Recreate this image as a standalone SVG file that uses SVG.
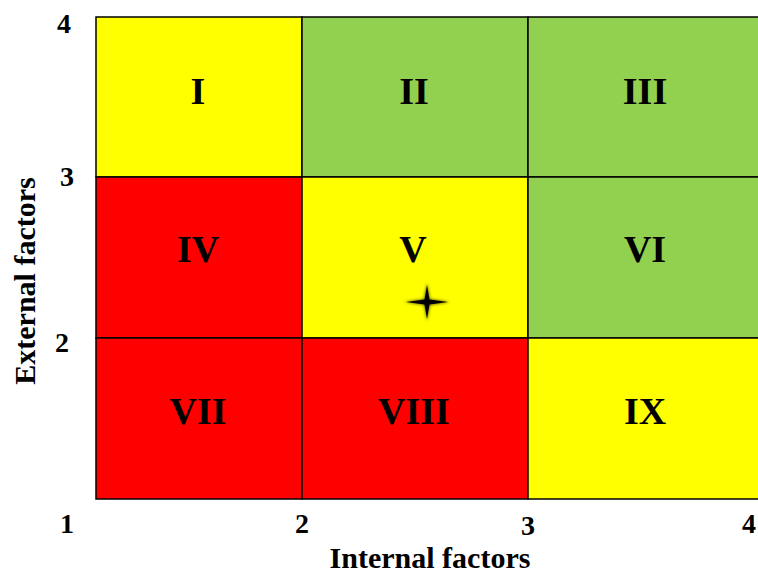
<svg xmlns="http://www.w3.org/2000/svg" width="758" height="575" viewBox="0 0 758 575">
<style>
.cell{stroke:#000;stroke-width:1.5}
.y{fill:#FFFF00}.g{fill:#92D050}.r{fill:#FF0000}
.num{font-family:"Liberation Serif",serif;font-weight:bold;font-size:38px;text-anchor:middle;fill:#000}
.ax{font-family:"Liberation Serif",serif;font-weight:bold;font-size:28px;text-anchor:middle;fill:#000}
.lab{font-family:"Liberation Serif",serif;font-weight:bold;font-size:30px;text-anchor:middle;fill:#000}
</style>
<defs>
<filter id="blur" x="-50%" y="-50%" width="200%" height="200%"><feGaussianBlur stdDeviation="1.5"/></filter>
</defs>
<rect width="758" height="575" fill="#fff"/>
<g id="cell-I"><rect class="cell y" x="96" y="17" width="206" height="160"/><text class="num" x="198" y="104">I</text></g>
<g id="cell-II"><rect class="cell g" x="302" y="17" width="226" height="160"/><text class="num" x="414" y="104">II</text></g>
<g id="cell-III"><rect class="cell g" x="528" y="17" width="232" height="160"/><text class="num" x="645" y="104">III</text></g>
<g id="cell-IV"><rect class="cell r" x="96" y="177" width="206" height="161"/><text class="num" x="198" y="262">IV</text></g>
<g id="cell-V"><rect class="cell y" x="302" y="177" width="226" height="161"/><text class="num" x="413" y="262">V</text></g>
<g id="cell-VI"><rect class="cell g" x="528" y="177" width="232" height="161"/><text class="num" x="645" y="262">VI</text></g>
<g id="cell-VII"><rect class="cell r" x="96" y="338" width="206" height="161"/><text class="num" x="198" y="424">VII</text></g>
<g id="cell-VIII"><rect class="cell r" x="302" y="338" width="226" height="161"/><text class="num" x="414" y="424">VIII</text></g>
<g id="cell-IX"><rect class="cell y" x="528" y="338" width="232" height="161"/><text class="num" x="645" y="424">IX</text></g>
<g id="star">
<path d="M427 283 L430 299 L450 302 L430 305 L427 321 L424 305 L404 302 L424 299 Z" fill="#000" filter="url(#blur)" opacity="0.6"/>
<path d="M427 285 L429.5 299.5 L448 302 L429.5 304.5 L427 319 L424.5 304.5 L406 302 L424.5 299.5 Z" fill="#000"/>
</g>
<g id="axes">
<text class="ax" x="64" y="33">4</text>
<text class="ax" x="67" y="186">3</text>
<text class="ax" x="62" y="352">2</text>
<text class="ax" x="67" y="533">1</text>
<text class="ax" x="302" y="533">2</text>
<text class="ax" x="528" y="535">3</text>
<text class="ax" x="749" y="533">4</text>
<text class="lab" x="430" y="568">Internal factors</text>
<text class="lab" transform="translate(35 281) rotate(-90)">External factors</text>
</g>
</svg>
